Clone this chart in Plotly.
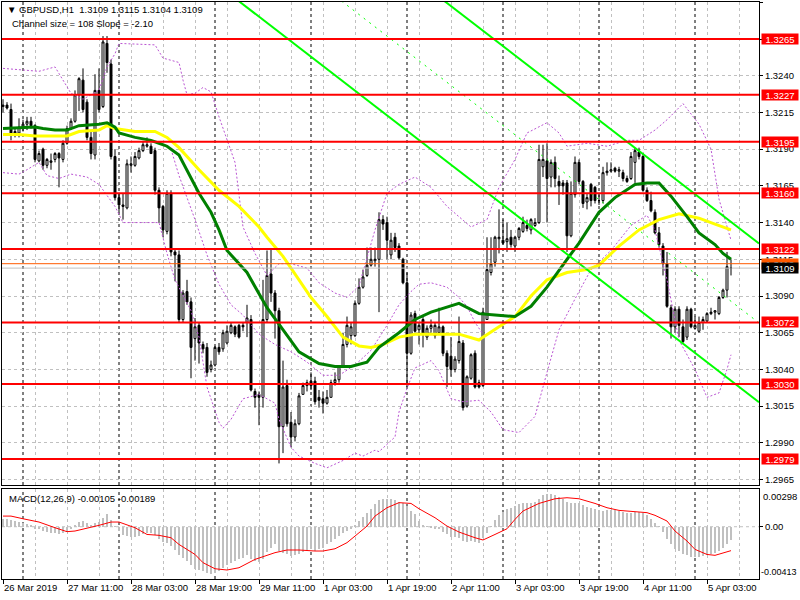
import plotly.graph_objects as go

# ---------------- data ----------------
bar_index = list(range(183))

open_ = [1.3219,1.3220,1.3217,1.3200,1.3201,1.3205,1.3207,1.3209,1.3206,1.3182,
 1.3190,1.3179,1.3181,1.3183,1.3187,1.3183,1.3194,1.3204,1.3209,1.3227,
 1.3237,1.3222,1.3198,1.3186,1.3230,1.3219,1.3262,1.3248,1.3185,1.3157,
 1.3152,1.3150,1.3179,1.3179,1.3184,1.3189,1.3192,1.3192,1.3189,1.3162,
 1.3151,1.3134,1.3160,1.3120,1.3118,1.3074,1.3093,1.3086,1.3061,1.3070,
 1.3057,1.3055,1.3040,1.3043,1.3055,1.3054,1.3058,1.3065,1.3069,1.3070,
 1.3070,1.3072,1.3074,1.3025,1.3023,1.3021,1.3074,1.3105,1.3092,1.3080,
 1.3001,1.3029,1.3004,1.2994,1.3003,1.3023,1.3029,1.3032,1.3032,1.3021,
 1.3020,1.3017,1.3021,1.3031,1.3033,1.3042,1.3057,1.3063,1.3063,1.3085,
 1.3096,1.3104,1.3111,1.3114,1.3115,1.3142,1.3140,1.3118,1.3130,1.3124,
 1.3115,1.3099,1.3051,1.3078,1.3067,1.3074,1.3062,1.3068,1.3063,1.3065,
 1.3069,1.3051,1.3049,1.3040,1.3046,1.3058,1.3015,1.3034,1.3051,1.3031,
 1.3029,1.3074,1.3106,1.3113,1.3129,1.3128,1.3127,1.3130,1.3124,1.3130,
 1.3134,1.3138,1.3135,1.3138,1.3140,1.3178,1.3182,1.3171,1.3181,1.3168,
 1.3167,1.3167,1.3131,1.3159,1.3181,1.3168,1.3154,1.3166,1.3164,1.3155,
 1.3155,1.3174,1.3175,1.3177,1.3175,1.3174,1.3170,1.3170,1.3181,1.3188,
 1.3185,1.3162,1.3155,1.3147,1.3133,1.3124,1.3112,1.3082,1.3069,1.3081,
 1.3069,1.3062,1.3081,1.3068,1.3066,1.3072,1.3073,1.3078,1.3079,1.3078,
 1.3089,1.3094,1.3109]

high = [1.3224,1.3222,1.3221,1.3204,1.3211,1.3210,1.3212,1.3212,1.3207,1.3189,
 1.3191,1.3184,1.3187,1.3188,1.3188,1.3196,1.3206,1.3211,1.3230,1.3239,
 1.3245,1.3224,1.3203,1.3241,1.3245,1.3267,1.3267,1.3251,1.3190,1.3160,
 1.3160,1.3183,1.3185,1.3188,1.3191,1.3195,1.3198,1.3194,1.3191,1.3164,
 1.3152,1.3162,1.3162,1.3122,1.3121,1.3094,1.3101,1.3089,1.3075,1.3072,
 1.3059,1.3058,1.3046,1.3056,1.3058,1.3067,1.3070,1.3072,1.3070,1.3071,
 1.3072,1.3084,1.3077,1.3027,1.3025,1.3101,1.3121,1.3122,1.3094,1.3082,
 1.3046,1.3033,1.3011,1.3006,1.3024,1.3031,1.3033,1.3038,1.3035,1.3026,
 1.3025,1.3026,1.3033,1.3038,1.3043,1.3065,1.3076,1.3072,1.3087,1.3102,
 1.3108,1.3123,1.3123,1.3123,1.3147,1.3145,1.3144,1.3133,1.3133,1.3126,
 1.3116,1.3106,1.3079,1.3080,1.3072,1.3076,1.3070,1.3074,1.3072,1.3082,
 1.3070,1.3053,1.3062,1.3049,1.3076,1.3060,1.3036,1.3051,1.3053,1.3033,
 1.3082,1.3130,1.3130,1.3131,1.3149,1.3142,1.3140,1.3135,1.3131,1.3137,
 1.3144,1.3142,1.3143,1.3143,1.3193,1.3193,1.3194,1.3183,1.3185,1.3172,
 1.3169,1.3169,1.3168,1.3185,1.3183,1.3169,1.3160,1.3167,1.3165,1.3159,
 1.3178,1.3181,1.3181,1.3178,1.3178,1.3176,1.3172,1.3188,1.3191,1.3191,
 1.3187,1.3164,1.3161,1.3149,1.3137,1.3126,1.3120,1.3084,1.3083,1.3083,
 1.3074,1.3083,1.3082,1.3076,1.3076,1.3076,1.3079,1.3082,1.3080,1.3090,
 1.3095,1.3120,1.3115]

low = [1.3215,1.3217,1.3196,1.3198,1.3198,1.3202,1.3203,1.3204,1.3181,1.3181,
 1.3176,1.3177,1.3176,1.3181,1.3164,1.3181,1.3193,1.3203,1.3208,1.3216,
 1.3215,1.3196,1.3183,1.3183,1.3215,1.3218,1.3242,1.3183,1.3155,1.3147,
 1.3142,1.3149,1.3174,1.3178,1.3183,1.3188,1.3191,1.3187,1.3159,1.3140,
 1.3130,1.3132,1.3117,1.3100,1.3072,1.3072,1.3084,1.3034,1.3046,1.3044,
 1.3051,1.3035,1.3038,1.3042,1.3050,1.3052,1.3057,1.3064,1.3062,1.3061,
 1.3066,1.3062,1.3025,1.3014,1.3002,1.3014,1.3072,1.3086,1.3061,1.2976,
 1.2983,1.3001,1.2987,1.2991,1.3002,1.3023,1.3025,1.3026,1.3016,1.3014,
 1.3010,1.3016,1.3021,1.3029,1.3031,1.3041,1.3055,1.3057,1.3062,1.3084,
 1.3095,1.3103,1.3110,1.3110,1.3079,1.3135,1.3115,1.3115,1.3120,1.3115,
 1.3098,1.3028,1.3050,1.3065,1.3057,1.3055,1.3060,1.3065,1.3061,1.3064,
 1.3049,1.3028,1.3035,1.3038,1.3044,1.3012,1.3014,1.3033,1.3027,1.3027,
 1.3028,1.3074,1.3104,1.3110,1.3119,1.3125,1.3120,1.3123,1.3120,1.3128,
 1.3133,1.3134,1.3132,1.3137,1.3139,1.3171,1.3140,1.3164,1.3164,1.3152,
 1.3159,1.3120,1.3130,1.3157,1.3166,1.3150,1.3149,1.3151,1.3153,1.3152,
 1.3153,1.3172,1.3174,1.3174,1.3171,1.3168,1.3167,1.3169,1.3167,1.3183,
 1.3161,1.3154,1.3147,1.3132,1.3123,1.3104,1.3082,1.3061,1.3065,1.3062,
 1.3058,1.3060,1.3068,1.3067,1.3065,1.3067,1.3072,1.3077,1.3074,1.3077,
 1.3088,1.3089,1.3104]

close = [1.3220,1.3218,1.3200,1.3202,1.3205,1.3207,1.3209,1.3206,1.3183,1.3187,
 1.3179,1.3183,1.3182,1.3187,1.3184,1.3194,1.3204,1.3209,1.3227,1.3238,
 1.3217,1.3198,1.3187,1.3230,1.3217,1.3263,1.3249,1.3185,1.3157,1.3152,
 1.3151,1.3180,1.3180,1.3185,1.3189,1.3193,1.3193,1.3187,1.3162,1.3150,
 1.3135,1.3160,1.3120,1.3118,1.3074,1.3092,1.3086,1.3055,1.3069,1.3058,
 1.3054,1.3038,1.3043,1.3055,1.3052,1.3065,1.3066,1.3070,1.3064,1.3062,
 1.3069,1.3075,1.3026,1.3021,1.3021,1.3074,1.3104,1.3092,1.3080,1.3001,
 1.3028,1.3003,1.2994,1.3003,1.3022,1.3029,1.3031,1.3029,1.3018,1.3019,
 1.3017,1.3021,1.3031,1.3033,1.3042,1.3057,1.3070,1.3069,1.3085,1.3096,
 1.3103,1.3111,1.3115,1.3115,1.3142,1.3139,1.3128,1.3128,1.3123,1.3116,
 1.3099,1.3051,1.3077,1.3066,1.3070,1.3064,1.3068,1.3070,1.3070,1.3069,
 1.3051,1.3042,1.3040,1.3047,1.3059,1.3014,1.3035,1.3050,1.3028,1.3028,
 1.3079,1.3108,1.3112,1.3130,1.3130,1.3126,1.3129,1.3125,1.3130,1.3136,
 1.3140,1.3136,1.3142,1.3140,1.3183,1.3183,1.3170,1.3181,1.3170,1.3165,
 1.3165,1.3131,1.3160,1.3181,1.3168,1.3153,1.3157,1.3155,1.3155,1.3155,
 1.3174,1.3175,1.3176,1.3175,1.3176,1.3170,1.3168,1.3185,1.3189,1.3185,
 1.3162,1.3155,1.3148,1.3133,1.3125,1.3112,1.3083,1.3069,1.3081,1.3070,
 1.3059,1.3081,1.3069,1.3070,1.3072,1.3074,1.3078,1.3079,1.3080,1.3089,
 1.3094,1.3110,1.3109]

# moving averages (read at sample bars)
ma_green_bars = [0,8,10,13,16,19,24,26,28,29,33,37,39,41,44,46,49,52,54,56,61,66,70,74,79,83,87,91,94,99,103,107,114,119,123,128,132,136,141,144,149,153,158,161,164,167,171,174,178,180,182]
ma_green = [1.3204,1.3205,1.3204,1.3203,1.3203,1.3206,1.3207,1.3208,1.3205,1.3201,1.3198,1.3196,1.3194,1.3192,1.3186,1.3176,1.3160,1.3147,1.3135,1.3121,1.3106,1.3082,1.3067,1.3052,1.3044,1.3042,1.3042,1.3045,1.3055,1.3065,1.3074,1.3079,1.3085,1.3078,1.3077,1.3076,1.3083,1.3096,1.3115,1.3126,1.3147,1.3157,1.3166,1.3167,1.3167,1.3158,1.3144,1.3133,1.3125,1.3119,1.3115]

ma_yellow_bars = [0,4,8,16,19,24,26,28,33,38,41,44,49,54,59,64,66,70,74,77,81,85,89,92,95,99,103,111,114,119,120,124,128,132,136,141,146,149,154,159,164,169,174,178,182]
ma_yellow = [1.3200,1.3200,1.3199,1.3199,1.3202,1.3203,1.3206,1.3204,1.3202,1.3202,1.3198,1.3191,1.3176,1.3162,1.3151,1.3137,1.3130,1.3117,1.3101,1.3089,1.3076,1.3062,1.3056,1.3055,1.3057,1.3062,1.3064,1.3064,1.3064,1.3060,1.3062,1.3069,1.3076,1.3090,1.3101,1.3106,1.3108,1.3111,1.3124,1.3135,1.3142,1.3146,1.3143,1.3139,1.3135]

# Bollinger bands (read at sample bars)
bb_up_bars = [0,6,9,13,15,17,20,24,26,28,29,38,40,44,45,46,48,50,52,54,58,60,63,66,69,72,76,79,83,86,89,93,96,99,103,107,111,117,121,124,128,131,136,139,141,146,151,156,159,163,166,170,174,177,179,182]
bb_up = [1.3245,1.3244,1.3243,1.3246,1.3237,1.3228,1.3224,1.3230,1.3246,1.3255,1.3262,1.3261,1.3252,1.3249,1.3237,1.3227,1.3228,1.3232,1.3229,1.3212,1.3181,1.3137,1.3119,1.3104,1.3112,1.3112,1.3109,1.3099,1.3092,1.3089,1.3097,1.3135,1.3160,1.3166,1.3171,1.3164,1.3151,1.3137,1.3142,1.3164,1.3183,1.3201,1.3208,1.3201,1.3192,1.3194,1.3192,1.3196,1.3196,1.3203,1.3210,1.3221,1.3207,1.3190,1.3156,1.3128]

bb_mid_bars = [42,44,48,51,54,57,60,64,68,72,76,80,84,88,92,96,99,102,104,107,111,114,116,118,120]
bb_mid = [1.3190,1.3172,1.3142,1.3118,1.3098,1.3084,1.3077,1.3064,1.3057,1.3052,1.3045,1.3036,1.3036,1.3043,1.3053,1.3070,1.3084,1.3093,1.3098,1.3099,1.3096,1.3089,1.3083,1.3072,1.3064]

bb_lo_bars = [0,4,6,9,11,14,17,21,24,28,30,36,39,41,43,47,49,51,54,55,57,60,64,68,69,72,74,78,81,85,88,90,93,94,98,99,101,103,107,109,112,115,119,122,125,129,133,136,139,143,147,152,157,161,163,166,169,173,176,179,181,182]
bb_lo = [1.3174,1.3173,1.3176,1.3181,1.3172,1.3170,1.3173,1.3171,1.3166,1.3151,1.3140,1.3140,1.3140,1.3119,1.3101,1.3080,1.3062,1.3028,1.3004,1.3000,1.3006,1.3020,1.3023,1.3017,1.3006,1.2987,1.2981,1.2976,1.2973,1.2978,1.2983,1.2981,1.2985,1.2984,1.2994,1.3011,1.3027,1.3041,1.3046,1.3039,1.3020,1.3018,1.3019,1.3011,1.2999,1.2997,1.3008,1.3038,1.3067,1.3088,1.3108,1.3121,1.3138,1.3145,1.3135,1.3101,1.3060,1.3040,1.3021,1.3024,1.3040,1.3050]

# linear regression channel (Channel size = 108, Slope = -2.10): end points
channel_bars = [50, 189]
channel_upper = [1.34176, 1.31257]
channel_middle = [1.33636, 1.30717]
channel_lower = [1.33096, 1.30177]

# horizontal levels
levels = [1.3265, 1.3227, 1.3195, 1.3160, 1.3122, 1.3072, 1.3030, 1.2979]
bid_price = 1.3109
ask_price = 1.3112

# MACD (12,26,9)
macd_hist = [0.00063,0.00058,0.00053,0.00045,0.00037,0.00026,0.00018,0.00011,-0.00016,-0.00021,
 -0.00034,-0.00042,-0.00047,-0.00053,-0.00055,-0.00047,-0.00034,-0.00016,0.00011,0.00037,
 0.00045,0.00026,0.00011,0.00032,0.00037,0.00071,0.00097,0.00053,0.00005,-0.00034,
 -0.00068,-0.00074,-0.00079,-0.00079,-0.00074,-0.00061,-0.00053,-0.00053,-0.00068,-0.00095,
 -0.00121,-0.00126,-0.00153,-0.00184,-0.00226,-0.00245,-0.00271,-0.00305,-0.00332,-0.00342,
 -0.00350,-0.00363,-0.00377,-0.00363,-0.00350,-0.00324,-0.00305,-0.00284,-0.00271,-0.00258,
 -0.00245,-0.00226,-0.00258,-0.00271,-0.00279,-0.00253,-0.00200,-0.00166,-0.00140,-0.00192,
 -0.00211,-0.00219,-0.00232,-0.00226,-0.00219,-0.00200,-0.00192,-0.00179,-0.00192,-0.00179,
 -0.00166,-0.00140,-0.00121,-0.00095,-0.00074,-0.00047,-0.00034,-0.00016,0.00011,0.00045,
 0.00079,0.00111,0.00137,0.00176,0.00211,0.00216,0.00216,0.00216,0.00211,0.00195,
 0.00190,0.00163,0.00124,0.00097,0.00045,0.00011,0.00003,-0.00008,-0.00016,-0.00021,
 -0.00042,-0.00061,-0.00079,-0.00079,-0.00087,-0.00113,-0.00121,-0.00113,-0.00121,-0.00126,
 -0.00087,-0.00047,0.00005,0.00053,0.00090,0.00116,0.00137,0.00150,0.00163,0.00176,
 0.00184,0.00184,0.00190,0.00195,0.00221,0.00248,0.00255,0.00255,0.00250,0.00237,
 0.00221,0.00195,0.00190,0.00190,0.00184,0.00169,0.00158,0.00150,0.00142,0.00132,
 0.00124,0.00132,0.00132,0.00132,0.00126,0.00118,0.00111,0.00111,0.00116,0.00116,
 0.00111,0.00090,0.00058,0.00026,0.00003,-0.00042,-0.00100,-0.00140,-0.00179,-0.00192,
 -0.00219,-0.00226,-0.00237,-0.00237,-0.00237,-0.00232,-0.00226,-0.00219,-0.00211,-0.00192,
 -0.00166,-0.00140,-0.00105]

signal_bars = [0,2,5,9,13,16,18,22,24,27,29,33,36,39,42,44,48,50,53,56,59,63,68,71,74,78,80,83,86,88,91,93,96,99,102,104,108,111,114,118,120,123,126,128,130,134,138,141,144,148,151,154,158,161,163,166,168,171,173,176,178,180,182]
signal = [0.00084,0.00084,0.00063,0.00037,-0.00008,-0.00039,-0.00034,-0.00008,0.00011,0.00037,0.00037,-0.00008,-0.00061,-0.00068,-0.00087,-0.00140,-0.00219,-0.00284,-0.00332,-0.00342,-0.00324,-0.00258,-0.00205,-0.00184,-0.00184,-0.00192,-0.00192,-0.00174,-0.00126,-0.00074,0.00005,0.00084,0.00150,0.00190,0.00184,0.00142,0.00071,0.00005,-0.00042,-0.00087,-0.00105,-0.00061,-0.00016,0.00058,0.00124,0.00184,0.00221,0.00229,0.00221,0.00184,0.00150,0.00129,0.00118,0.00111,0.00090,0.00045,-0.00034,-0.00113,-0.00179,-0.00219,-0.00226,-0.00205,-0.00189]
macd_max, macd_min = 0.00298, -0.00413

time_label_bars = [0,16,32,48,64,80,96,112,128,144,160,176]
time_labels = ["26 Mar 2019","27 Mar 11:00","28 Mar 03:00","28 Mar 19:00","29 Mar 11:00",
               "1 Apr 03:00","1 Apr 19:00","2 Apr 11:00","3 Apr 03:00","3 Apr 19:00",
               "4 Apr 11:00","5 Apr 03:00"]
day_separator_bars = [5,29,53,77,101,125,149,173]

# ---------------- figure ----------------
W, H = 800, 600
ML, MR, MT, MB = 2, 41, 2, 21
FONT = "Liberation Sans, Arial, sans-serif"
FS = 9.5
GRID = "#c0c0c0"
DASH = "3px,3px"

def px_x(px):
    return (px - ML) / (W - ML - MR)

def px_y(py):
    return (H - MB - py) / (H - MT - MB)

fig = go.Figure()

fig.add_trace(go.Candlestick(
    x=bar_index, open=open_, high=high, low=low, close=close,
    increasing=dict(line=dict(color="black", width=1), fillcolor="white"),
    decreasing=dict(line=dict(color="black", width=1), fillcolor="black"),
    whiskerwidth=0, xaxis="x", yaxis="y", showlegend=False, hoverinfo="skip"))

for bx, by in [(bb_up_bars, bb_up), (bb_mid_bars, bb_mid), (bb_lo_bars, bb_lo)]:
    fig.add_trace(go.Scatter(x=bx, y=by, mode="lines",
        line=dict(color="#BA55D3", width=1, dash="2px,2px"), xaxis="x", yaxis="y", showlegend=False))

fig.add_trace(go.Scatter(x=ma_yellow_bars, y=ma_yellow, mode="lines",
    line=dict(color="#ffff00", width=3), xaxis="x", yaxis="y", showlegend=False))
fig.add_trace(go.Scatter(x=ma_green_bars, y=ma_green, mode="lines",
    line=dict(color="#008000", width=3), xaxis="x", yaxis="y", showlegend=False))

for vals, dash, w in [(channel_upper, None, 2), (channel_lower, None, 2), (channel_middle, "2px,5px", 1)]:
    fig.add_trace(go.Scatter(x=channel_bars, y=vals, mode="lines",
        line=dict(color="#00ff00", width=w, dash=dash), xaxis="x", yaxis="y", showlegend=False))

fig.add_trace(go.Bar(x=bar_index, y=macd_hist, width=0.72, marker=dict(color="#c0c0c0", line=dict(width=0)),
    xaxis="x2", yaxis="y2", showlegend=False))
fig.add_trace(go.Scatter(x=signal_bars, y=signal, mode="lines",
    line=dict(color="#ff0000", width=1), xaxis="x2", yaxis="y2", showlegend=False))

shapes = []
for lv in levels:
    shapes.append(dict(type="line", xref="x domain", yref="y", x0=0, x1=1, y0=lv, y1=lv,
                       line=dict(color="#ff0000", width=2), layer="above"))
shapes.append(dict(type="line", xref="x domain", yref="y", x0=0, x1=1, y0=ask_price, y1=ask_price,
                   line=dict(color="#ff5a00", width=1), layer="above"))
shapes.append(dict(type="line", xref="x domain", yref="y", x0=0, x1=1, y0=bid_price, y1=bid_price,
                   line=dict(color="#c0c0c0", width=1), layer="above"))
for b in day_separator_bars:
    shapes.append(dict(type="line", xref="x", yref="y domain", x0=b, x1=b, y0=0, y1=1,
                       line=dict(color="black", width=1, dash=DASH), layer="below"))
    shapes.append(dict(type="line", xref="x2", yref="y2 domain", x0=b, x1=b, y0=0, y1=1,
                       line=dict(color="black", width=1, dash=DASH), layer="below"))
shapes.append(dict(type="line", xref="x2 domain", yref="y2", x0=0, x1=1, y0=0, y1=0,
                   line=dict(color=GRID, width=1, dash=DASH), layer="below"))

def label_box(txt, y, bg, yref="y"):
    return dict(text=txt, xref="paper", yref=yref, x=1, y=y, xanchor="left", xshift=2,
                yanchor="middle", showarrow=False, bgcolor=bg, borderpad=0, width=36, height=10,
                align="center", valign="middle", font=dict(family=FONT, size=FS, color="white"))

ann = []
ann.append(dict(text="\u25BC GBPUSD,H1  1.3109 1.3115 1.3104 1.3109", xref="paper", yref="paper",
                x=px_x(5), y=px_y(10), xanchor="left", yanchor="middle", showarrow=False,
                font=dict(family=FONT, size=FS, color="black")))
ann.append(dict(text="Channel size = 108 Slope = -2.10", xref="paper", yref="paper",
                x=px_x(10), y=px_y(23), xanchor="left", yanchor="middle", showarrow=False,
                font=dict(family=FONT, size=FS, color="black")))
ann.append(dict(text="MACD(12,26,9) -0.00105 -0.00189", xref="paper", yref="paper",
                x=px_x(7), y=px_y(498), xanchor="left", yanchor="middle", showarrow=False,
                font=dict(family=FONT, size=FS, color="black")))
ann.append(label_box(f"{ask_price:.4f}", ask_price, "#ff5a00"))
for lv in levels:
    ann.append(label_box(f"{lv:.4f}", lv, "#ff0000"))
ann.append(label_box(f"{bid_price:.4f}", bid_price, "black"))
ann.append(dict(text=f"{macd_max:.5f}", xref="paper", yref="y2", x=1, y=macd_max, xanchor="left",
                xshift=2, yanchor="top", showarrow=False, font=dict(family=FONT, size=FS, color="black")))
ann.append(dict(text=f"{macd_min:.5f}", xref="paper", yref="y2", x=1, y=macd_min, xanchor="left",
                xshift=0, yanchor="bottom", showarrow=False, font=dict(family=FONT, size=9, color="black")))

xrange_ = [-0.25, 189]
main_dom = [px_y(485), 1]
macd_dom = [0, px_y(489)]

fig.update_layout(
    width=W, height=H, margin=dict(l=ML, r=MR, t=MT, b=MB, autoexpand=False),
    paper_bgcolor="white", plot_bgcolor="white", hovermode=False, bargap=0,
    font=dict(family=FONT, size=FS, color="black"),
    shapes=shapes, annotations=ann, showlegend=False,
    xaxis=dict(domain=[0, 1], anchor="y", range=xrange_, showticklabels=False, ticks="",
               showgrid=True, gridcolor=GRID, griddash=DASH, tick0=0, dtick=8, zeroline=False,
               showline=True, mirror=True, linecolor="black", linewidth=1,
               rangeslider=dict(visible=False)),
    yaxis=dict(domain=main_dom, anchor="x", range=[1.29613, 1.32902], side="right",
               tick0=1.2965, dtick=0.0025, tickformat=".4f", ticks="outside", ticklen=3,
               tickcolor="black", showgrid=True, gridcolor=GRID, griddash=DASH, zeroline=False,
               showline=True, mirror=True, linecolor="black", linewidth=1),
    xaxis2=dict(domain=[0, 1], anchor="y2", range=xrange_, tickvals=time_label_bars,
                ticktext=time_labels, ticklabelposition="outside right", tickangle=0,
                ticks="outside", ticklen=4, tickcolor="black", showgrid=True, gridcolor=GRID,
                griddash=DASH,
                minor=dict(tick0=0, dtick=8, showgrid=True, gridcolor=GRID, griddash=DASH, ticks=""),
                zeroline=False, showline=True, mirror=True, linecolor="black", linewidth=1),
    yaxis2=dict(domain=macd_dom, anchor="x2", range=[macd_min, macd_max], side="right",
                tickvals=[0], ticktext=["0.00"], ticks="outside", ticklen=3, tickcolor="black",
                showgrid=False, zeroline=False, showline=True, mirror=True,
                linecolor="black", linewidth=1),
)

fig.write_html("out.html", config={"displayModeBar": False},
               post_script="document.body.style.margin='0px';document.body.style.overflow='hidden';")
